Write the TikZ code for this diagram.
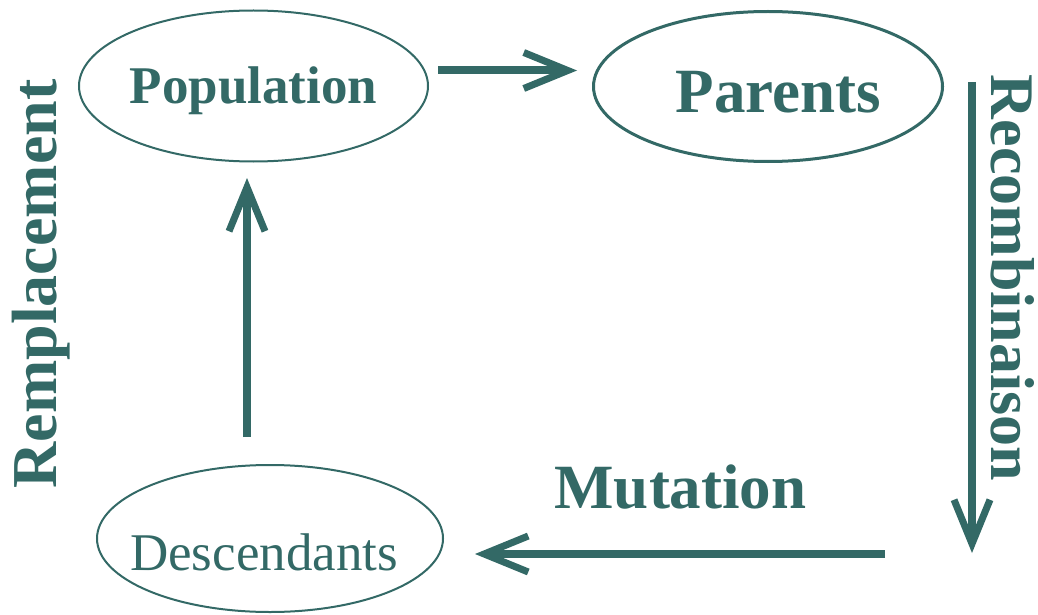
\documentclass[tikz,border=0pt]{standalone}
\usepackage{fontspec}
\setmainfont{Liberation Serif}
\usetikzlibrary{arrows.meta, positioning, shapes.geometric}
\definecolor{teal}{RGB}{51,105,102}
\newcommand{\fsz}[1]{\fontsize{#1}{#1}\selectfont}

\begin{document}
\begin{tikzpicture}[
        x=1pt, y=-1pt,
        pool/.style={ellipse, draw=teal, line width=2pt, inner sep=0pt},
        label/.style={text=teal, inner sep=0pt, anchor=base},
        arrow/.style={draw=teal, line width=8pt,
            -{Straight Barb[length=44pt, width=36pt, line width=7pt].}}
    ]
        \useasboundingbox (0,0) rectangle (1038,615);

        \node[pool, minimum width=349pt, minimum height=151pt] (population) at (253.5,86) {};
        \node[pool, line width=3pt, minimum width=349pt, minimum height=150pt] (parents) at (768,86.5) {};
        \node[pool, minimum width=346pt, minimum height=147pt] (descendants) at (270,538.5) {};

        \node[label, font=\fsz{53}\bfseries] (poptext) at (253.5,103) {Population};
        \node[label, font=\fsz{63}\bfseries] (partext) at (778.5,113) {Parents};
        \node[label, font=\fsz{53}] (destext) at (264,570) {Descendants};
        \node[label, font=\fsz{63}\bfseries] (mutation) at (680.5,508) {Mutation};
        \node[label, font=\fsz{64}\bfseries, rotate=90] (remplacement) at (56,284) {Remplacement};
        \node[label, font=\fsz{62}\bfseries, rotate=-90] (recombinaison) at (991,278) {Recombinaison};

        % free ends of the four arrows
        \coordinate (selstart) at (438,70.5);
        \coordinate (selend) at (577,70.5);
        \coordinate (recstart) at (972,82);
        \coordinate (recend) at (972,553);
        \coordinate (mutstart) at (885,554);
        \coordinate (mutend) at (475,554);
        \coordinate (repstart) at (247,437);
        \coordinate (repend) at (247,178);

        \draw[arrow] (selstart) -- (selend);
        \draw[arrow] (recstart) -- (recend);
        \draw[arrow] (mutstart) -- (mutend);
        \draw[arrow] (repstart) -- (repend);
    \end{tikzpicture}
\end{document}
